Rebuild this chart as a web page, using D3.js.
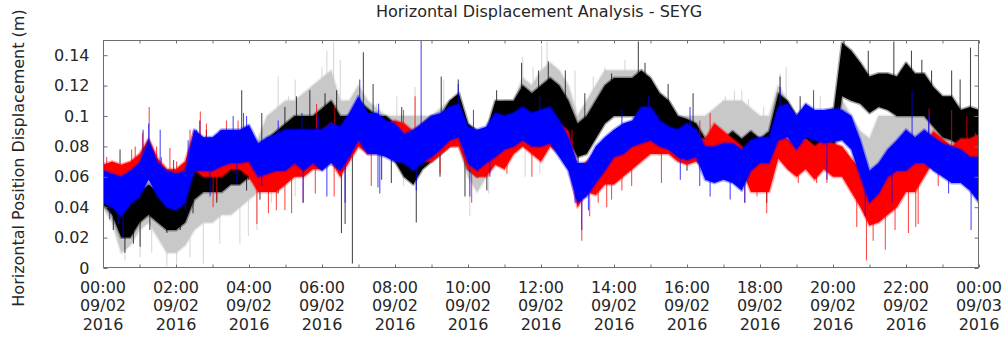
<!DOCTYPE html>
<html>
<head>
<meta charset="utf-8">
<script src="https://cdn.jsdelivr.net/npm/d3@7"></script>
<style>
  html, body { margin: 0; padding: 0; background: #fff; }
  svg { display: block; }
  text { font-family: "DejaVu Sans", sans-serif; fill: #262626; }
</style>
</head>
<body>
<svg id="chart" width="1003" height="337"></svg>
<script>
// Sample times (minutes after 00:00 on 09/02/2016), one every 15 minutes
const sampleMinutes = d3.range(0, 1441, 15);

// Dense band of each receiver track: lower / upper edge per sample (m)
const grayLo = [0.040,0.030,0.010,0.015,0.025,0.030,0.020,0.010,0.010,0.015,0.025,0.030,0.030,0.035,0.035,0.040,
  0.045,0.050,0.070,0.075,0.080,0.085,0.080,0.080,0.090,0.095,0.080,0.080,0.090,0.085,0.080,0.075,
  0.072,0.060,0.060,0.070,0.070,0.075,0.080,0.080,0.060,0.050,0.060,0.075,0.080,0.080,0.085,0.080,
  0.090,0.100,0.090,0.090,0.080,0.085,0.090,0.100,0.100,0.100,0.100,0.100,0.095,0.090,0.085,0.080,
  0.078,0.078,0.075,0.080,0.080,0.085,0.080,0.085,0.080,0.080,0.095,0.090,0.085,0.085,0.080,0.080,
  0.080,0.085,0.080,0.060,0.055,0.065,0.075,0.080,0.085,0.085,0.080,0.075,0.070,0.070,0.070,0.065,0.060];
const grayHi = [0.060,0.050,0.040,0.040,0.045,0.050,0.040,0.035,0.035,0.040,0.050,0.055,0.055,0.055,0.060,0.060,
  0.075,0.085,0.100,0.105,0.110,0.110,0.115,0.120,0.125,0.130,0.110,0.110,0.120,0.110,0.105,0.100,
  0.100,0.100,0.100,0.100,0.100,0.105,0.110,0.110,0.090,0.090,0.090,0.105,0.110,0.110,0.125,0.120,
  0.130,0.135,0.130,0.120,0.100,0.110,0.120,0.130,0.130,0.130,0.130,0.130,0.120,0.115,0.110,0.100,
  0.100,0.100,0.100,0.105,0.110,0.110,0.110,0.105,0.100,0.100,0.120,0.110,0.100,0.105,0.100,0.100,
  0.100,0.110,0.100,0.090,0.085,0.100,0.100,0.100,0.100,0.100,0.100,0.100,0.095,0.095,0.095,0.090,0.090];

const blackLo = [0.042,0.035,0.020,0.020,0.030,0.035,0.030,0.025,0.025,0.030,0.045,0.050,0.050,0.050,0.055,0.055,
  0.060,0.055,0.060,0.065,0.070,0.075,0.070,0.075,0.080,0.080,0.070,0.075,0.085,0.080,0.080,0.075,
  0.070,0.060,0.055,0.065,0.070,0.075,0.080,0.085,0.065,0.060,0.065,0.080,0.085,0.085,0.090,0.090,
  0.090,0.100,0.095,0.085,0.073,0.075,0.085,0.095,0.100,0.100,0.100,0.100,0.100,0.095,0.090,0.080,
  0.075,0.075,0.065,0.070,0.065,0.070,0.065,0.070,0.065,0.070,0.090,0.090,0.085,0.085,0.080,0.080,
  0.075,0.113,0.110,0.108,0.102,0.106,0.104,0.100,0.100,0.100,0.100,0.093,0.086,0.084,0.080,0.078,0.073];
const blackHi = [0.065,0.055,0.045,0.045,0.050,0.055,0.050,0.045,0.045,0.050,0.070,0.070,0.070,0.070,0.075,0.075,
  0.080,0.075,0.085,0.090,0.095,0.100,0.100,0.100,0.105,0.110,0.100,0.100,0.110,0.105,0.100,0.100,
  0.095,0.090,0.085,0.095,0.100,0.100,0.110,0.115,0.095,0.090,0.090,0.110,0.110,0.110,0.120,0.115,
  0.120,0.125,0.120,0.110,0.095,0.100,0.110,0.120,0.125,0.125,0.125,0.130,0.125,0.115,0.110,0.100,
  0.098,0.095,0.085,0.090,0.085,0.090,0.085,0.090,0.085,0.090,0.115,0.110,0.100,0.105,0.100,0.100,
  0.100,0.148,0.143,0.135,0.126,0.128,0.128,0.126,0.135,0.128,0.128,0.119,0.113,0.113,0.104,0.106,0.104];

const redLo = [0.045,0.048,0.045,0.050,0.050,0.060,0.050,0.045,0.045,0.050,0.065,0.060,0.060,0.060,0.065,0.065,
  0.060,0.050,0.050,0.050,0.055,0.060,0.060,0.065,0.065,0.070,0.060,0.070,0.080,0.075,0.075,0.075,
  0.072,0.070,0.070,0.070,0.070,0.075,0.080,0.080,0.065,0.060,0.060,0.068,0.065,0.075,0.080,0.075,
  0.070,0.080,0.075,0.068,0.040,0.050,0.048,0.055,0.055,0.060,0.065,0.070,0.075,0.075,0.075,0.070,
  0.068,0.070,0.065,0.075,0.070,0.070,0.065,0.050,0.050,0.050,0.072,0.065,0.060,0.065,0.058,0.065,
  0.060,0.060,0.050,0.040,0.028,0.030,0.035,0.040,0.050,0.050,0.060,0.070,0.065,0.060,0.065,0.065,0.068];
const redHi = [0.068,0.070,0.068,0.070,0.075,0.085,0.072,0.065,0.065,0.070,0.090,0.085,0.085,0.085,0.085,0.085,
  0.085,0.070,0.070,0.075,0.075,0.080,0.080,0.085,0.090,0.095,0.090,0.095,0.105,0.100,0.100,0.095,
  0.097,0.095,0.090,0.095,0.095,0.100,0.100,0.100,0.085,0.085,0.080,0.090,0.090,0.095,0.100,0.095,
  0.100,0.100,0.095,0.090,0.065,0.070,0.075,0.075,0.078,0.085,0.085,0.090,0.095,0.090,0.090,0.085,
  0.088,0.085,0.085,0.095,0.090,0.085,0.080,0.070,0.070,0.070,0.090,0.085,0.080,0.085,0.080,0.085,
  0.082,0.080,0.072,0.065,0.055,0.055,0.065,0.065,0.070,0.070,0.080,0.090,0.085,0.080,0.085,0.085,0.088];

const blueLo = [0.043,0.040,0.034,0.042,0.047,0.058,0.047,0.040,0.038,0.043,0.064,0.064,0.064,0.067,0.069,0.069,
  0.070,0.060,0.062,0.064,0.064,0.069,0.064,0.069,0.064,0.069,0.064,0.073,0.084,0.075,0.075,0.073,
  0.070,0.069,0.064,0.069,0.073,0.078,0.084,0.086,0.069,0.064,0.069,0.073,0.078,0.080,0.084,0.080,
  0.080,0.082,0.073,0.064,0.043,0.047,0.056,0.064,0.073,0.075,0.080,0.082,0.084,0.080,0.078,0.073,
  0.071,0.073,0.058,0.056,0.058,0.056,0.051,0.064,0.069,0.069,0.084,0.086,0.078,0.086,0.084,0.082,
  0.083,0.084,0.078,0.060,0.043,0.049,0.060,0.064,0.064,0.069,0.069,0.064,0.060,0.056,0.056,0.051,0.043];
const blueHi = [0.064,0.062,0.060,0.064,0.069,0.084,0.069,0.064,0.062,0.064,0.091,0.086,0.086,0.091,0.091,0.091,
  0.094,0.082,0.086,0.088,0.091,0.091,0.091,0.091,0.091,0.095,0.093,0.102,0.113,0.102,0.102,0.097,
  0.095,0.088,0.091,0.095,0.100,0.102,0.106,0.108,0.093,0.091,0.093,0.102,0.100,0.102,0.106,0.102,
  0.104,0.106,0.097,0.086,0.069,0.069,0.080,0.086,0.091,0.095,0.097,0.106,0.106,0.097,0.093,0.091,
  0.095,0.091,0.080,0.080,0.082,0.082,0.078,0.084,0.086,0.086,0.106,0.108,0.100,0.108,0.104,0.104,
  0.105,0.104,0.100,0.084,0.064,0.069,0.078,0.084,0.091,0.086,0.091,0.086,0.082,0.080,0.078,0.073,0.073];

// Isolated excursions beyond the dense band: [minute, value (m)]
const graySpikes = [[36,0.005],[61,0.007],[80,0.010],[105,0.001],[121,0.003],[143,0.007],[165,0.003],
  [192,0.016],[225,0.016],[239,0.021],[253,0.025],[277,0.043],[288,0.126],[305,0.113],[316,0.124],
  [316,0.047],[329,0.115],[343,0.117],[360,0.132],[368,0.143],[379,0.149],[390,0.137],[414,0.113],
  [450,0.108],[483,0.113],[494,0.054],[513,0.119],[560,0.124],[603,0.034],[634,0.049],[690,0.139],
  [694,0.060],[707,0.132],[718,0.062],[721,0.146],[730,0.149],[776,0.130],[806,0.126],[825,0.132],
  [858,0.137],[1023,0.113],[1038,0.117],[1050,0.117],[1061,0.111],[1086,0.106],[1113,0.128],
  [1123,0.132],[1179,0.113]];
const blackSpikes = [[17,0.025],[28,0.078],[36,0.010],[50,0.016],[61,0.014],[77,0.025],[105,0.023],
  [127,0.025],[148,0.036],[154,0.091],[170,0.091],[187,0.043],[228,0.117],[236,0.051],[239,0.058],
  [258,0.045],[261,0.102],[288,0.049],[299,0.106],[318,0.113],[340,0.117],[365,0.115],[384,0.117],
  [392,0.023],[398,0.029],[410,0.003],[428,0.142],[444,0.121],[458,0.058],[474,0.056],[491,0.106],
  [515,0.030],[554,0.060],[556,0.126],[584,0.124],[595,0.047],[631,0.051],[647,0.117],[688,0.135],
  [716,0.130],[732,0.136],[760,0.130],[781,0.064],[792,0.115],[836,0.128],[880,0.149],[891,0.135],
  [929,0.121],[960,0.064],[970,0.115],[1091,0.043],[1113,0.126],[1146,0.113],[1218,0.150],[1258,0.143],
  [1300,0.149],[1329,0.143],[1346,0.137],[1362,0.130],[1395,0.130],[1409,0.124],[1426,0.145],[1439,0.064]];
const redSpikes = [[6,0.073],[17,0.069],[47,0.078],[53,0.080],[65,0.089],[76,0.106],[88,0.080],[96,0.073],
  [110,0.079],[121,0.070],[143,0.091],[160,0.103],[170,0.095],[181,0.040],[187,0.045],[192,0.091],
  [203,0.097],[222,0.097],[236,0.093],[253,0.029],[272,0.036],[285,0.038],[299,0.038],[310,0.036],
  [329,0.043],[349,0.049],[351,0.108],[380,0.047],[381,0.107],[441,0.054],[494,0.104],[513,0.113],
  [540,0.100],[554,0.062],[606,0.043],[647,0.069],[664,0.062],[705,0.060],[771,0.091],[787,0.018],
  [800,0.034],[814,0.043],[828,0.040],[836,0.045],[853,0.051],[869,0.054],[897,0.093],[918,0.056],
  [981,0.097],[998,0.102],[1055,0.043],[1075,0.047],[1091,0.036],[1143,0.056],[1173,0.056],
  [1190,0.056],[1239,0.027],[1255,0.005],[1266,0.018],[1286,0.012],[1302,0.025],[1324,0.023],
  [1336,0.027],[1340,0.029],[1358,0.105],[1373,0.054],[1395,0.104],[1420,0.100],[1434,0.089]];
const blueSpikes = [[1,0.121],[11,0.032],[25,0.029],[33,0.020],[50,0.043],[66,0.091],[75,0.095],
  [94,0.091],[105,0.040],[116,0.071],[135,0.038],[140,0.084],[159,0.097],[176,0.047],[214,0.100],
  [220,0.056],[231,0.102],[236,0.100],[261,0.054],[288,0.097],[327,0.102],[329,0.043],[354,0.100],
  [368,0.047],[398,0.043],[422,0.124],[452,0.053],[453,0.108],[455,0.049],[515,0.051],[523,0.150],
  [584,0.121],[603,0.047],[609,0.104],[636,0.060],[718,0.113],[776,0.043],[787,0.025],[798,0.038],
  [853,0.104],[897,0.113],[949,0.058],[965,0.106],[981,0.054],[998,0.047],[1031,0.045],[1055,0.043],
  [1113,0.119],[1168,0.117],[1190,0.058],[1209,0.106],[1253,0.034],[1297,0.043],[1330,0.117],
  [1357,0.100],[1390,0.049],[1427,0.025]];

// Axis ticks
const yTickValues = [0, 0.02, 0.04, 0.06, 0.08, 0.1, 0.12, 0.14];
const yTickLabels = ["0", "0.02", "0.04", "0.06", "0.08", "0.1", "0.12", "0.14"];
const xMinorMinutes = d3.range(0, 1441, 60);
const xTickMinutes = d3.range(0, 1441, 120);
const xTickLabels = [
  ["00:00","09/02","2016"],["02:00","09/02","2016"],["04:00","09/02","2016"],["06:00","09/02","2016"],
  ["08:00","09/02","2016"],["10:00","09/02","2016"],["12:00","09/02","2016"],["14:00","09/02","2016"],
  ["16:00","09/02","2016"],["18:00","09/02","2016"],["20:00","09/02","2016"],["22:00","09/02","2016"],
  ["00:00","09/03","2016"]];

const titleText = "Horizontal Displacement Analysis - SEYG";
const yTitleText = "Horizontal Position Displacement (m)";

// Layout
const plot = { left: 103, right: 979, top: 40, bottom: 268 };
const fontSize = 16;

const svg = d3.select("#chart");
const x = d3.scaleLinear().domain([0, 1440]).range([plot.left, plot.right]);
const y = d3.scaleLinear().domain([0, 0.15]).range([plot.bottom, plot.top]);

svg.append("defs").append("clipPath").attr("id", "plot-clip")
  .append("rect")
  .attr("x", plot.left).attr("y", plot.top)
  .attr("width", plot.right - plot.left).attr("height", plot.bottom - plot.top);

const layer = svg.append("g").attr("clip-path", "url(#plot-clip)");

const series = [
  { lo: grayLo,  hi: grayHi,  spikes: graySpikes,  color: "#c8c8c8" },
  { lo: blackLo, hi: blackHi, spikes: blackSpikes, color: "#000000" },
  { lo: redLo,   hi: redHi,   spikes: redSpikes,   color: "#ff0000" },
  { lo: blueLo,  hi: blueHi,  spikes: blueSpikes,  color: "#0000ff" }
];

const band = d3.area()
  .x((d, i) => x(sampleMinutes[i]))
  .y0(d => y(d[0]))
  .y1(d => y(d[1]));

// middle of a band at any minute, read along the drawn band
function bandMid(s, minute) {
  const lo = d3.scaleLinear().domain(sampleMinutes).range(s.lo)(minute);
  const hi = d3.scaleLinear().domain(sampleMinutes).range(s.hi)(minute);
  return (lo + hi) / 2;
}

series.forEach(s => {
  const rows = s.lo.map((v, i) => [v, s.hi[i]]);
  const g = layer.append("g");
  g.selectAll("line")
    .data(s.spikes)
    .join("line")
    .attr("x1", d => x(d[0]))
    .attr("x2", d => x(d[0]))
    .attr("y1", d => y(bandMid(s, d[0])))
    .attr("y2", d => y(d[1]))
    .attr("stroke", s.color)
    .attr("stroke-width", 1.1)
    .attr("stroke-opacity", 0.7);
  // soft fringe around the dense band
  g.append("path")
    .datum(rows)
    .attr("d", band)
    .attr("fill", "none")
    .attr("stroke", s.color)
    .attr("stroke-width", 3)
    .attr("stroke-opacity", 0.35)
    .attr("stroke-linejoin", "round");
  g.append("path")
    .datum(rows)
    .attr("d", band)
    .attr("fill", s.color);
});

// Frame
const frameColor = "#6e6e6e";
svg.append("rect")
  .attr("x", plot.left + 0.5).attr("y", plot.top + 0.5)
  .attr("width", plot.right - plot.left - 1).attr("height", plot.bottom - plot.top - 1)
  .attr("fill", "none").attr("stroke", frameColor).attr("stroke-width", 1);

// Left axis with labels, inward ticks
const yAxis = d3.axisLeft(y)
  .tickValues(yTickValues)
  .tickFormat((d, i) => yTickLabels[i])
  .tickSize(-4)
  .tickPadding(14);
const gy = svg.append("g").attr("transform", `translate(${plot.left + 0.5},0)`).call(yAxis);
gy.select(".domain").remove();
gy.selectAll(".tick line").attr("stroke", frameColor);
gy.selectAll(".tick text").attr("font-size", fontSize).attr("font-family", "DejaVu Sans, sans-serif").attr("fill", "#262626");

// Right axis: mirrored ticks only
const yAxisR = d3.axisRight(y).tickValues(yTickValues).tickSize(-4).tickFormat("");
const gyr = svg.append("g").attr("transform", `translate(${plot.right - 0.5},0)`).call(yAxisR);
gyr.select(".domain").remove();
gyr.selectAll(".tick line").attr("stroke", frameColor);

// Bottom and top: hourly inward ticks
const xAxisB = d3.axisBottom(x).tickValues(xMinorMinutes).tickSize(-3).tickFormat("");
const gxb = svg.append("g").attr("transform", `translate(0,${plot.bottom - 0.5})`).call(xAxisB);
gxb.select(".domain").remove();
gxb.selectAll(".tick line").attr("stroke", frameColor);

const xAxisT = d3.axisTop(x).tickValues(xMinorMinutes).tickSize(-3).tickFormat("");
const gxt = svg.append("g").attr("transform", `translate(0,${plot.top + 0.5})`).call(xAxisT);
gxt.select(".domain").remove();
gxt.selectAll(".tick line").attr("stroke", frameColor);

// Three-line time labels every two hours
const xl = svg.append("g").attr("class", "x-labels");
xl.selectAll("text")
  .data(xTickMinutes)
  .join("text")
  .attr("x", d => x(d))
  .attr("y", 293)
  .attr("text-anchor", "middle")
  .attr("font-size", fontSize)
  .each(function (d, i) {
    const t = d3.select(this);
    xTickLabels[i].forEach((line, k) => {
      t.append("tspan").attr("x", x(d)).attr("dy", k === 0 ? 0 : 18.4).text(line);
    });
  });

// Titles
svg.append("text")
  .attr("x", 539).attr("y", 17)
  .attr("text-anchor", "middle")
  .attr("font-size", fontSize)
  .text(titleText);

svg.append("text")
  .attr("transform", "translate(24,158) rotate(-90)")
  .attr("text-anchor", "middle")
  .attr("font-size", fontSize)
  .text(yTitleText);
</script>
</body>
</html>
